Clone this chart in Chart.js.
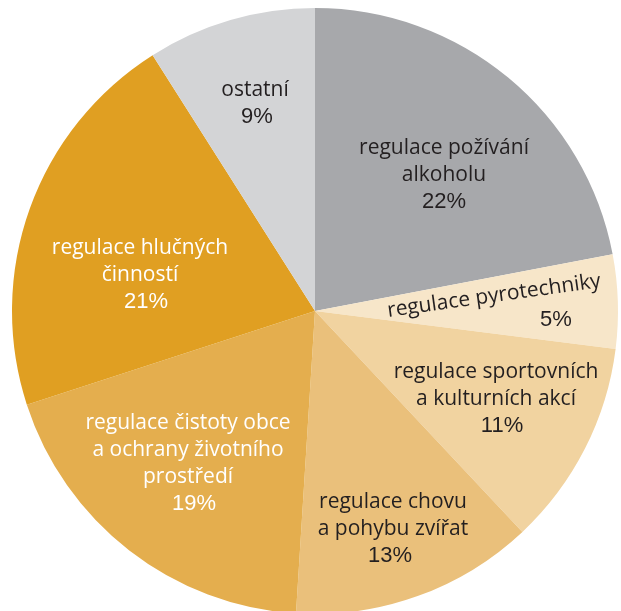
<!DOCTYPE html>
<html>
<head>
<meta charset="utf-8">
<script src="https://cdn.jsdelivr.net/npm/chart.js@4"></script>
<style>
html,body{margin:0;padding:0;background:#fff;overflow:hidden;}
#wrap{position:relative;width:621px;height:614px;}
</style>
</head>
<body>
<div id="wrap"><canvas id="c"></canvas></div>
<script>
const categories = [
  "regulace požívání alkoholu",
  "regulace pyrotechniky",
  "regulace sportovních a kulturních akcí",
  "regulace chovu a pohybu zvířat",
  "regulace čistoty obce a ochrany životního prostředí",
  "regulace hlučných činností",
  "ostatní"
];
const values = [22, 5, 11, 13, 19, 21, 9];
const labelLines = [
  ["regulace požívání", "alkoholu"],
  ["regulace pyrotechniky"],
  ["regulace sportovních", "a kulturních akcí"],
  ["regulace chovu", "a pohybu zvířat"],
  ["regulace čistoty obce", "a ochrany životního", "prostředí"],
  ["regulace hlučných", "činností"],
  ["ostatní"]
];
const percentLabels = ["22%", "5%", "11%", "13%", "19%", "21%", "9%"];
const colors = ["#a7a8ab", "#f7e6c9", "#f1d3a0", "#eac07b", "#e4ae4e", "#e09f22", "#d3d4d6"];
const textColors = ["#231f20", "#231f20", "#231f20", "#231f20", "#ffffff", "#ffffff", "#231f20"];

// label layout: offsets (px) from pie centre for first line, line step, rotation
const labelLayout = [
  {dx: 129, dy: -163, pdx: 129, rot: 0},
  {dx: 179, dy: -15, pdx: 241, pdy: 9, rot: -8},
  {dx: 181, dy: 61, pdx: 187, rot: 0},
  {dx: 78, dy: 191, pdx: 75, rot: 0},
  {dx: -127, dy: 112, pdx: -121, rot: 0},
  {dx: -175, dy: -63, pdx: -169, rot: 0},
  {dx: -60, dy: -221, pdx: -58, rot: 0}
];

const labelPlugin = {
  id: 'sliceLabels',
  afterDatasetsDraw(chart) {
    const ctx = chart.ctx;
    const meta = chart.getDatasetMeta(0);
    const arc0 = meta.data[0];
    const cx = arc0.x, cy = arc0.y;
    const step = 27;
    ctx.save();
    ctx.textAlign = 'center';
    ctx.textBaseline = 'middle';
    labelLines.forEach((lines, i) => {
      const L = labelLayout[i];
      ctx.fillStyle = textColors[i];
      ctx.save();
      ctx.translate(cx + L.dx, cy + L.dy);
      ctx.rotate(L.rot * Math.PI / 180);
      ctx.font = '21px "Open Sans", Lato, sans-serif';
      lines.forEach((t, k) => ctx.fillText(t, 0, k * step));
      ctx.restore();
      ctx.font = '22px "Liberation Sans", Arial, sans-serif';
      let py;
      if (L.pdy !== undefined) py = cy + L.pdy;
      else py = cy + L.dy + lines.length * step;
      ctx.fillText(percentLabels[i], cx + L.pdx, py);
    });
    ctx.restore();
  }
};

new Chart(document.getElementById('c'), {
  type: 'pie',
  data: {
    labels: categories,
    datasets: [{
      data: values,
      backgroundColor: colors,
      borderWidth: 0
    }]
  },
  options: {
    responsive: true,
    maintainAspectRatio: false,
    animation: false,
    layout: {padding: {left: 9, top: 8, right: 0, bottom: 0}},
    plugins: {legend: {display: false}, tooltip: {enabled: false}}
  },
  plugins: [labelPlugin]
});
</script>
</body>
</html>
